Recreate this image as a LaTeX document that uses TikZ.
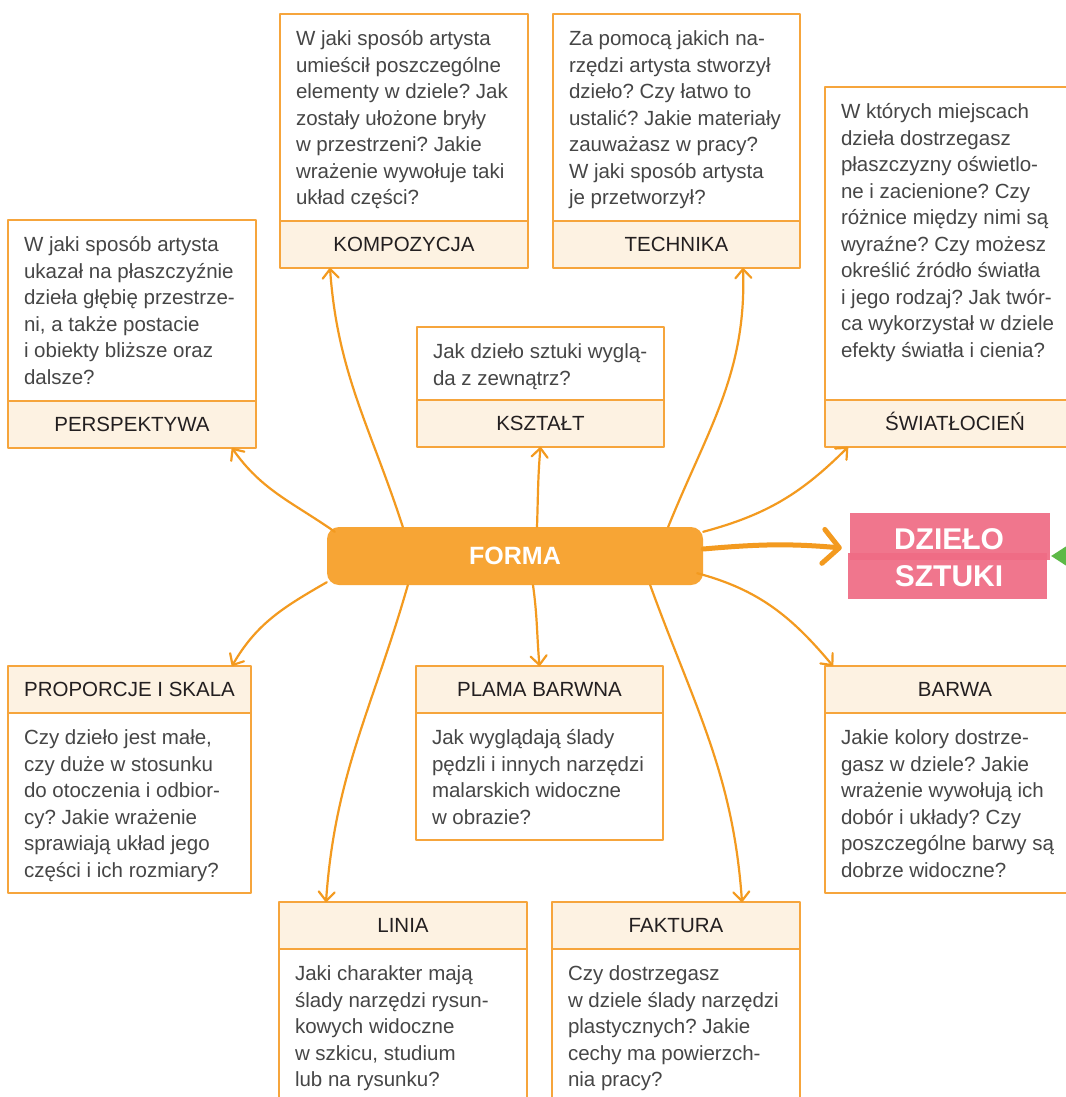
\documentclass[tikz,border=0pt]{standalone}
\usepackage{fontspec}
\setmainfont{Liberation Sans}
\usetikzlibrary{arrows.meta}
\usetikzlibrary{positioning}
\usetikzlibrary{backgrounds}
\frenchspacing

\definecolor{linie}{HTML}{F39A1F}
\definecolor{formakolor}{HTML}{F7A535}
\definecolor{ramka}{HTML}{F6A53C}
\definecolor{krem}{HTML}{FDF2E2}
\definecolor{rozowy}{HTML}{EF6C85}
\definecolor{zielony}{HTML}{5DB947}
\definecolor{szary}{HTML}{464646}
\definecolor{napis}{HTML}{231F20}

% tekst pytania w ramce o danej szerokosci i wysokosci
\newcommand{\pole}[3]{\begin{minipage}[t][\dimexpr#2-26pt\relax][t]{\dimexpr#1-32pt\relax}\strut #3\end{minipage}}

\begin{document}
\begin{tikzpicture}[x=1pt,y=1pt,line cap=round,line join=round,
  >={Straight Barb[length=9pt,width=16pt,round]},
  pytanie/.style={draw=ramka, line width=1.2pt, fill=white, outer sep=0pt,
    anchor=north west, inner xsep=16pt, inner ysep=13pt, text=szary,
    font=\fontsize{20.5}{26.5}\selectfont},
  naglowek/.style={draw=ramka, line width=1.2pt, fill=krem, outer sep=0pt,
    minimum height=47pt, text height=14.7pt, text depth=0pt, inner sep=0pt,
    text=napis, font=\fontsize{20.5}{24}\selectfont},
  strzalka/.style={->, color=linie, line width=2.2pt},
  gruba/.style={-{Straight Barb[length=16pt,width=34pt,round]}, color=linie, line width=5pt}]
\useasboundingbox (0,0) rectangle (1065,-1097);

%gorne ramki
\node[pytanie] (perspektywaP) at (8,-220) {\pole{248pt}{181pt}{W jaki sposób artysta\\ukazał na płaszczyźnie\\dzieła głębię przestrze-\\ni, a także postacie\\i obiekty bliższe oraz\\dalsze?}};
\node[naglowek, minimum width=248pt, below=0pt of perspektywaP] (perspektywa) {PERSPEKTYWA};

\node[pytanie] (kompozycjaP) at (280,-14) {\pole{248pt}{207pt}{W jaki sposób artysta\\umieścił poszczególne\\elementy w dziele? Jak\\zostały ułożone bryły\\w przestrzeni? Jakie\\wrażenie wywołuje taki\\układ części?}};
\node[naglowek, minimum width=248pt, below=0pt of kompozycjaP] (kompozycja) {KOMPOZYCJA};

\node[pytanie] (technikaP) at (553,-14) {\pole{247pt}{207pt}{Za pomocą jakich na-\\rzędzi artysta stworzył\\dzieło? Czy łatwo to\\ustalić? Jakie materiały\\zauważasz w pracy?\\W jaki sposób artysta\\je przetworzył?}};
\node[naglowek, minimum width=247pt, below=0pt of technikaP] (technika) {TECHNIKA};

\node[pytanie] (ksztaltP) at (417,-327) {\pole{247pt}{73pt}{Jak dzieło sztuki wyglą-\\da z zewnątrz?}};
\node[naglowek, minimum width=247pt, below=0pt of ksztaltP] (ksztalt) {KSZTAŁT};

\node[pytanie] (swiatlocienP) at (825,-87) {\pole{260pt}{313pt}{W których miejscach\\dzieła dostrzegasz\\płaszczyzny oświetlo-\\ne i zacienione? Czy\\różnice między nimi są\\wyraźne? Czy możesz\\określić źródło światła\\i jego rodzaj? Jak twór-\\ca wykorzystał w dziele\\efekty światła i cienia?}};
\node[naglowek, minimum width=260pt, below=0pt of swiatlocienP] (swiatlocien) {ŚWIATŁOCIEŃ};

%dolne ramki
\node[naglowek, minimum width=243pt, anchor=north west] (proporcje) at (8,-666) {PROPORCJE I SKALA};
\node[pytanie, below=0pt of proporcje] (proporcjeP) {\pole{243pt}{180pt}{Czy dzieło jest małe,\\czy duże w stosunku\\do otoczenia i odbior-\\cy? Jakie wrażenie\\sprawiają układ jego\\części i ich rozmiary?}};

\node[naglowek, minimum width=247pt, anchor=north west] (plama) at (416,-666) {PLAMA BARWNA};
\node[pytanie, below=0pt of plama] (plamaP) {\pole{247pt}{127pt}{Jak wyglądają ślady\\pędzli i innych narzędzi\\malarskich widoczne\\w obrazie?}};

\node[naglowek, minimum width=260pt, anchor=north west] (barwa) at (825,-666) {BARWA};
\node[pytanie, below=0pt of barwa] (barwaP) {\pole{260pt}{180pt}{Jakie kolory dostrze-\\gasz w dziele? Jakie\\wrażenie wywołują ich\\dobór i układy? Czy\\poszczególne barwy są\\dobrze widoczne?}};

\node[naglowek, minimum width=248pt, anchor=north west] (linia) at (279,-902) {LINIA};
\node[pytanie, below=0pt of linia] (liniaP) {\pole{248pt}{175pt}{Jaki charakter mają\\ślady narzędzi rysun-\\kowych widoczne\\w szkicu, studium\\lub na rysunku?}};

\node[naglowek, minimum width=248pt, anchor=north west] (faktura) at (552,-902) {FAKTURA};
\node[pytanie, below=0pt of faktura] (fakturaP) {\pole{248pt}{175pt}{Czy dostrzegasz\\w dziele ślady narzędzi\\plastycznych? Jakie\\cechy ma powierzch-\\nia pracy?}};

%srodek
\node[fill=formakolor, rounded corners=12pt, minimum width=376pt, minimum height=58pt,
  text=white, font=\fontsize{25}{30}\bfseries] (forma) at (515,-556) {FORMA};
\node[minimum width=202pt, minimum height=86pt, align=center, text=white,
  font=\fontsize{30}{37}\bfseries\selectfont] (dzielo) at (949,-558) {DZIEŁO\\SZTUKI};
\begin{scope}[on background layer]
\fill[white] (0,0) rectangle (1065,-1097);
\fill[rozowy, opacity=.93] ([shift={(2,2)}]dzielo.north west) rectangle ([yshift=-2pt]dzielo.east);
\fill[rozowy, opacity=.93] ([yshift=5pt]dzielo.west) rectangle ([shift={(-3,2)}]dzielo.south east);
\end{scope}
\fill[zielony] ([shift={(1,2)}]dzielo.east) -- ++(17,11) -- ++(0,-22) -- cycle;

%strzalki w gore
\draw[strzalka] ([shift={(8,-5)}]forma.north west) to[out=145,in=-55] ([xshift=-24pt]perspektywa.south east);
\draw[strzalka] ([xshift=76pt]forma.north west) to[out=108,in=-86] ([xshift=50pt]kompozycja.south west);
\draw[strzalka] ([xshift=22pt]forma.north) to[out=88,in=-95] (ksztalt.south);
\draw[strzalka] ([xshift=-35pt]forma.north east) to[out=68,in=-88] ([xshift=-57pt]technika.south east);
\draw[strzalka] ([yshift=-5pt]forma.north east) to[out=15,in=-135] ([xshift=23pt]swiatlocien.south west);
%strzalki w dol
\draw[strzalka] ([yshift=3pt]forma.south west) to[out=-150,in=60] ([xshift=-19pt]proporcje.north east);
\draw[strzalka] ([xshift=81pt]forma.south west) to[out=-106,in=86] ([xshift=47pt]linia.north west);
\draw[strzalka] ([xshift=18pt]forma.south) to[out=-82,in=95] (plama.north);
\draw[strzalka] ([xshift=-53pt]forma.south east) to[out=-70,in=94] ([xshift=-58pt]faktura.north east);
\draw[strzalka] ([shift={(-6,12)}]forma.south east) to[out=-15,in=130] ([xshift=8pt]barwa.north west);

\draw[gruba] ([yshift=7pt]forma.east) to[out=5,in=175] ([shift={(-6,10)}]dzielo.west);
\end{tikzpicture}
\end{document}
